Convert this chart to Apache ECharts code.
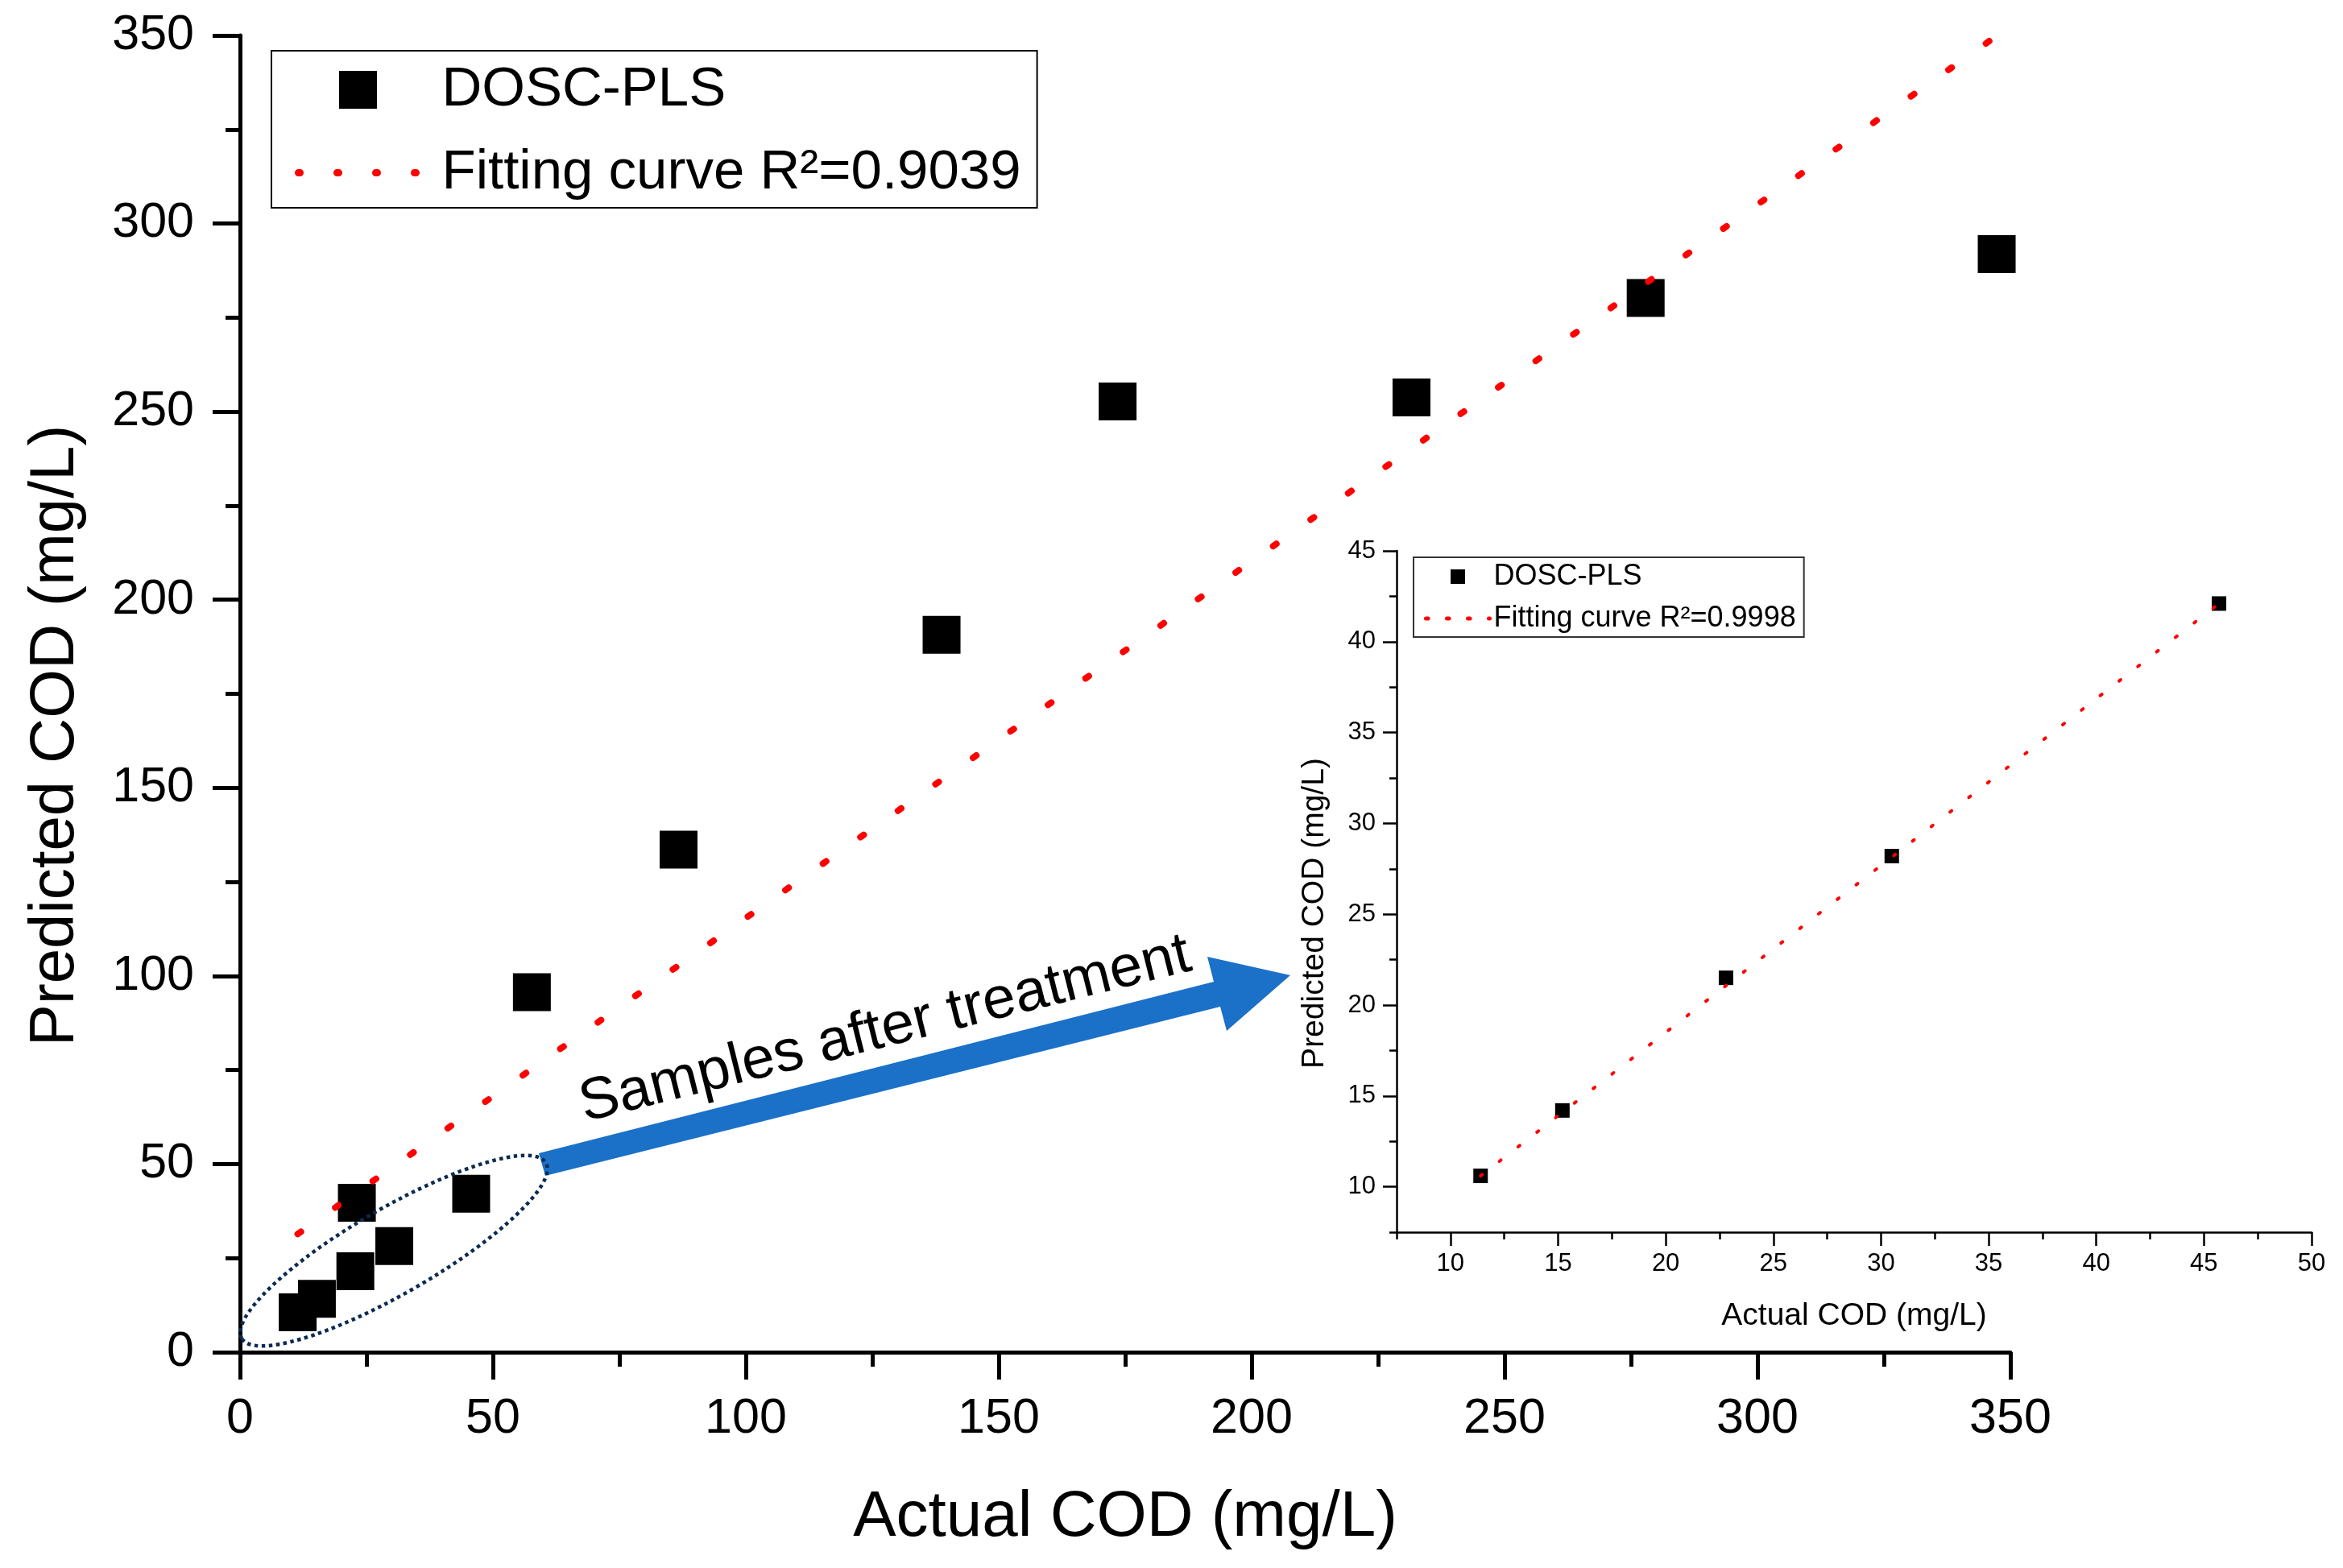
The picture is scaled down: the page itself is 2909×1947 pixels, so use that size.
<!DOCTYPE html>
<html>
<head>
<meta charset="utf-8">
<title>Actual vs predicted COD (DOSC-PLS)</title>
<script src="https://cdn.jsdelivr.net/npm/echarts@6/dist/echarts.min.js"></script>
<style>
html, body { margin: 0; padding: 0; background: #fff; }
#chart { width: 2909px; height: 1947px; }
</style>
</head>
<body>
<div id="chart"></div>
<script>
// all samples (main plot)
var actualAll = [11.4, 15.2, 22.8, 23.1, 30.5, 45.7, 57.7, 86.7, 138.7, 173.5, 231.6, 277.9, 347.3];
var predictedAll = [10.6, 14.2, 21.5, 39.7, 28.2, 42.1, 95.7, 133.6, 190.7, 252.7, 253.8, 280.2, 291.9];
// fitted line end points, R2 = 0.9039
var fitAllX = [11.4, 347.3];
var fitAllY = [31.4, 349.9];

// samples after treatment (inset)
var actualTreated = [11.4, 15.2, 22.8, 30.5, 45.7];
var predictedTreated = [10.6, 14.2, 21.5, 28.2, 42.1];
// fitted line end points, R2 = 0.9998
var fitTreatedX = [11.4, 45.7];
var fitTreatedY = [10.6, 42.1];

// inset tick values
var insetMajorX = [10, 15, 20, 25, 30, 35, 40, 45, 50];
var insetMinorX = [7.5, 12.5, 17.5, 22.5, 27.5, 32.5, 37.5, 42.5, 47.5];
var insetMajorY = [10, 15, 20, 25, 30, 35, 40, 45];
var insetMinorY = [7.5, 12.5, 17.5, 22.5, 27.5, 32.5, 37.5, 42.5];

function pairs(xs, ys) {
    var out = [];
    for (var i = 0; i < xs.length; i++) {
        out.push([xs[i], ys[i]]);
    }
    return out;
}

var FONT = '"Liberation Sans", Arial, sans-serif';
var squareIcon = 'path://M0,0L10,0L10,10L0,10Z';
var deg = Math.PI / 180;

var myChart = echarts.init(document.getElementById('chart'));

var option = {
    animation: false,
    backgroundColor: '#fff',
    textStyle: { fontFamily: FONT, color: '#000' },
    grid: [
        { left: 298, top: 44, width: 2198, height: 1635 },
        { left: 1734, top: 684, width: 1136, height: 846 }
    ],
    legend: [
        {
            left: 337, top: 63,
            orient: 'vertical',
            selectedMode: false,
            data: [
                { name: 'DOSC-PLS', icon: squareIcon },
                // hide the circle echarts puts in the middle of a line icon
                { name: 'Fitting curve R\u00b2=0.9039', itemStyle: { opacity: 0 } }
            ],
            itemWidth: 148, itemHeight: 47, itemGap: 34,
            padding: [14, 20, 9, 29],
            borderColor: '#000', borderWidth: 2,
            textStyle: { fontSize: 69, lineHeight: 68, color: '#000', padding: [0, 0, 0, 25] },
            lineStyle: { type: [2, 46], width: 9, cap: 'round' }
        },
        {
            left: 1755, top: 692,
            orient: 'vertical',
            selectedMode: false,
            data: [
                { name: 'DOSC-PLS', icon: squareIcon },
                { name: 'Fitting curve R\u00b2=0.9998', itemStyle: { opacity: 0 } }
            ],
            itemWidth: 79, itemHeight: 18, itemGap: 16,
            padding: [6, 10, 5, 13],
            borderColor: '#333', borderWidth: 2,
            textStyle: { fontSize: 36, lineHeight: 36, color: '#000' },
            lineStyle: { type: [2.5, 23.5], width: 5, cap: 'round' }
        }
    ],
    xAxis: [
        {
            gridIndex: 0, type: 'value', min: 0, max: 350, interval: 50,
            name: 'Actual COD (mg/L)', nameLocation: 'middle', nameGap: 166,
            nameTextStyle: { fontSize: 80, color: '#000' },
            axisLine: { onZero: false, lineStyle: { color: '#000', width: 5 } },
            axisTick: { length: 34, lineStyle: { color: '#000', width: 5 } },
            minorTick: { show: true, splitNumber: 2, length: 18, lineStyle: { color: '#000', width: 5 } },
            axisLabel: { fontSize: 61, color: '#000', margin: 53 },
            splitLine: { show: false }
        },
        {
            gridIndex: 1, type: 'value', min: 7.5, max: 50, position: 'bottom',
            name: 'Actual COD (mg/L)', nameLocation: 'middle', nameGap: 85,
            nameTextStyle: { fontSize: 39, color: '#000' },
            axisLine: { onZero: false, lineStyle: { color: '#000', width: 2.5 } },
            axisTick: { customValues: insetMajorX, length: 17, lineStyle: { color: '#000', width: 2.5 } },
            axisLabel: { customValues: insetMajorX, fontSize: 31, color: '#000', margin: 24 },
            splitLine: { show: false }
        },
        {
            gridIndex: 1, type: 'value', min: 7.5, max: 50, position: 'bottom',
            axisLine: { show: false, onZero: false },
            axisTick: { customValues: insetMinorX, length: 9, lineStyle: { color: '#000', width: 2.5 } },
            axisLabel: { show: false },
            splitLine: { show: false }
        }
    ],
    yAxis: [
        {
            gridIndex: 0, type: 'value', min: 0, max: 350, interval: 50,
            name: 'Predicted COD (mg/L)', nameLocation: 'middle', nameGap: 190,
            nameTextStyle: { fontSize: 78, color: '#000', padding: [0, 104, 0, 0] },
            axisLine: { onZero: false, lineStyle: { color: '#000', width: 5 } },
            axisTick: { length: 34, lineStyle: { color: '#000', width: 5 } },
            minorTick: { show: true, splitNumber: 2, length: 18, lineStyle: { color: '#000', width: 5 } },
            axisLabel: { fontSize: 61, color: '#000', margin: 57 },
            splitLine: { show: false }
        },
        {
            gridIndex: 1, type: 'value', min: 7.5, max: 45, position: 'left',
            name: 'Predicted COD (mg/L)', nameLocation: 'middle', nameGap: 82,
            nameTextStyle: { fontSize: 39, color: '#000', padding: [0, 54, 0, 0] },
            axisLine: { onZero: false, lineStyle: { color: '#000', width: 2.5 } },
            axisTick: { customValues: insetMajorY, length: 17, lineStyle: { color: '#000', width: 2.5 } },
            axisLabel: { customValues: insetMajorY, fontSize: 31, color: '#000', margin: 26 },
            splitLine: { show: false }
        },
        {
            gridIndex: 1, type: 'value', min: 7.5, max: 45, position: 'left',
            axisLine: { show: false, onZero: false },
            axisTick: { customValues: insetMinorY, length: 9, lineStyle: { color: '#000', width: 2.5 } },
            axisLabel: { show: false },
            splitLine: { show: false }
        }
    ],
    series: [
        {
            name: 'DOSC-PLS', type: 'scatter',
            xAxisIndex: 0, yAxisIndex: 0,
            symbol: 'rect', symbolSize: 47,
            itemStyle: { color: '#000', opacity: 1 },
            data: pairs(actualAll, predictedAll)
        },
        {
            name: 'Fitting curve R\u00b2=0.9039', type: 'line',
            xAxisIndex: 0, yAxisIndex: 0,
            symbol: 'none', z: 3,
            itemStyle: { color: '#ff0000' },
            lineStyle: { color: '#ff0000', width: 8, type: [5, 52], cap: 'round' },
            data: pairs(fitAllX, fitAllY)
        },
        {
            name: 'DOSC-PLS', type: 'scatter',
            xAxisIndex: 1, yAxisIndex: 1,
            symbol: 'rect', symbolSize: 18,
            itemStyle: { color: '#000', opacity: 1 },
            data: pairs(actualTreated, predictedTreated)
        },
        {
            name: 'Fitting curve R\u00b2=0.9998', type: 'line',
            xAxisIndex: 1, yAxisIndex: 1,
            symbol: 'none', z: 3,
            itemStyle: { color: '#ff0000' },
            lineStyle: { color: '#ff0000', width: 4, type: [2.5, 27], cap: 'round' },
            data: pairs(fitTreatedX, fitTreatedY)
        }
    ],
    graphic: [
        {
            // arrow pointing to the inset
            type: 'polygon', z: 9,
            shape: { points: [[669, 1432], [1507, 1219], [1499, 1188], [1602, 1211], [1523, 1280], [1515, 1250], [677, 1460]] },
            style: { fill: '#1b70c8' }
        },
        {
            // dotted ellipse round the treated samples
            type: 'ellipse', z: 10,
            x: 489, y: 1553, rotation: 30 * deg,
            shape: { cx: 0, cy: 0, rx: 218, ry: 53 },
            style: { fill: 'none', stroke: '#0b2a52', lineWidth: 4.5, lineDash: [4.5, 4.5] }
        },
        {
            type: 'text', z: 10,
            x: 1099, y: 1279, rotation: 14 * deg,
            style: {
                text: 'Samples after treatment',
                fontSize: 73, fontFamily: FONT, fill: '#000',
                textAlign: 'center', textVerticalAlign: 'middle',
                align: 'center', verticalAlign: 'middle'
            }
        }
    ]
};

myChart.setOption(option);
</script>
</body>
</html>
